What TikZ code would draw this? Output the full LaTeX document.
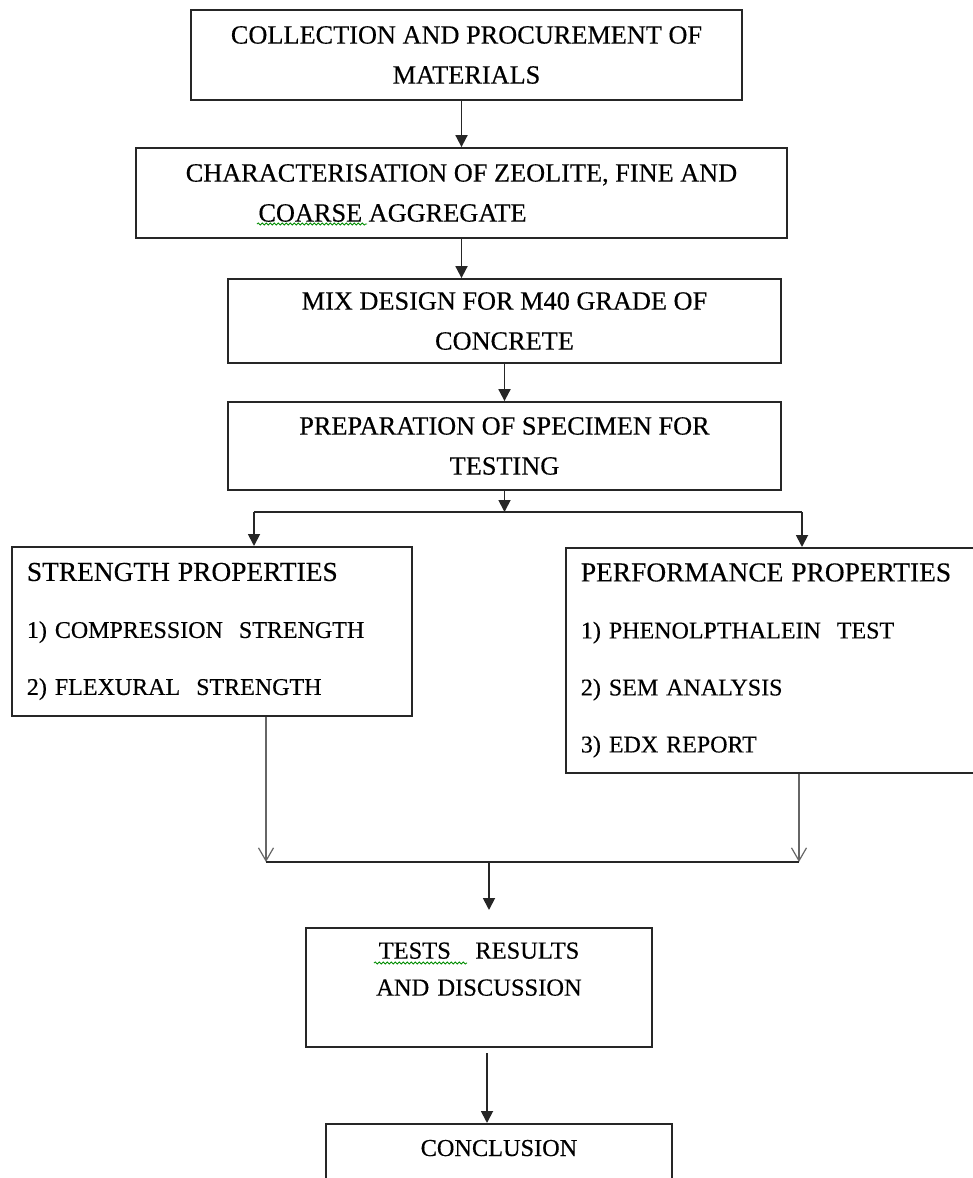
\documentclass[tikz,border=0pt]{standalone}
\usepackage{fontspec}
\setmainfont{Liberation Serif}[UprightFeatures={FakeBold=0.35}]
\usetikzlibrary{arrows.meta, decorations.pathmorphing}

\tikzset{
  box/.style={draw=black!85, line width=1.8pt, inner sep=0pt, align=center,
    font=\fontsize{26.3}{40}\selectfont},
  listbox/.style={box, anchor=north west, align=left,
    font=\fontsize{24}{57}\selectfont},
  flow/.style={draw=black!85, line width=1.8pt, -{Triangle[width=12pt,length=12pt]}},
  thinflow/.style={draw=black!60, line width=1.2pt,
    -{Straight Barb[width=15pt,length=13pt,line width=1.2pt]}},
  spell/.style={draw=green!55!black, line width=0.8pt,
    decorate, decoration={snake, amplitude=1.1pt, segment length=4pt}},
}

\begin{document}
\begin{tikzpicture}[x=1pt,y=-1pt]
\clip (0,0) rectangle (973,1178);
% main chain
\foreach \nm/\cx/\cy/\w/\h/\txt in {
  collect/466.5/55/551/90/{COLLECTION AND PROCUREMENT OF\\MATERIALS},
  charac/461.5/193/651/90/{CHARACTERISATION OF ZEOLITE, FINE AND\\COARSE AGGREGATE\hspace{138pt}\mbox{}},
  mix/504.5/321/553/84/{MIX DESIGN FOR M40 GRADE OF\\CONCRETE},
  prep/504.5/446/553/88/{PREPARATION OF SPECIMEN FOR\\TESTING}}{
\node[box, minimum width=\w, minimum height=\h] (\nm) at (\cx,\cy) {\txt};
}
\node[listbox, minimum width=400, minimum height=169, text width=370] (strength) at (11,546)
  {{\fontsize{27.4}{57}\selectfont STRENGTH PROPERTIES}\\1) COMPRESSION\ \ STRENGTH\\2) FLEXURAL\ \ STRENGTH};
\node[listbox, minimum width=420, minimum height=225, text width=390] (perf) at (565,547)
  {{\fontsize{27.4}{57}\selectfont PERFORMANCE PROPERTIES}\\1) PHENOLPTHALEIN\ \ TEST\\2) SEM ANALYSIS\\3) EDX REPORT};
\node[box, minimum width=346, minimum height=119, text width=330,
  font=\fontsize{24.5}{37}\selectfont] (tests) at (479,987.5)
  {TESTS\ \ \ RESULTS\\AND DISCUSSION\\\mbox{}};
\node[box, anchor=north, minimum width=346, inner ysep=16pt, text depth=100pt,
  font=\fontsize{24.3}{30}\selectfont] (concl) at (499,1123) {CONCLUSION};

% connectors
\coordinate (split) at (504.5,512);
\coordinate (sl) at (254,512);
\coordinate (sr) at (802,512);
\coordinate (jl) at (266,862);
\coordinate (jr) at (799,862);
\coordinate (jm) at (489,862);
\coordinate (tin) at (489,910);
\coordinate (tout) at (487,1053);
\draw[flow] (collect.south -| charac.north) -- (charac.north);
\draw[flow] (charac.south) -- (charac.south |- mix.north);
\draw[flow] (mix.south) -- (prep.north);
\draw[flow] (prep.south) -- (split);
\draw[draw=black!85, line width=1.8pt] (sl) -- (sr);
\draw[flow] (sl) -- (sl |- strength.north);
\draw[flow] (sr) -- (sr |- perf.north);
\draw[thinflow] (jl |- strength.south) -- (jl);
\draw[thinflow] (jr |- perf.south) -- (jr);
\draw[draw=black!85, line width=1.8pt] (jl) -- (jr);
\draw[flow] (jm) -- (tin);
\draw[flow] (tout) -- (tout |- concl.north);

% spell check marks
\draw[spell] (257,224) -- (367,224);
\draw[spell] (374,963) -- (467,963);
\end{tikzpicture}
\end{document}
